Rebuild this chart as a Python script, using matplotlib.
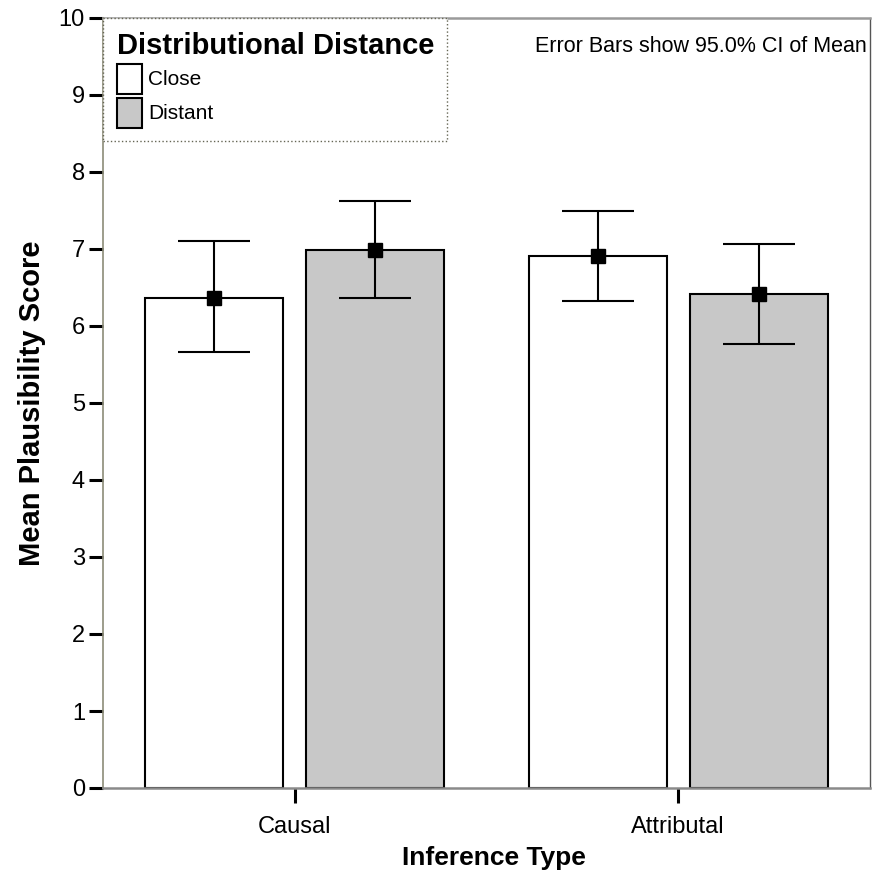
import numpy as np
import matplotlib
matplotlib.use("Agg")
import matplotlib.pyplot as plt
from matplotlib.patches import Rectangle
from matplotlib.legend_handler import HandlerPatch

# data
categories = ["Causal", "Attributal"]
groups = ["Close", "Distant"]
means_close = [6.37, 6.91]
means_distant = [6.99, 6.42]
ci_low_close = [5.66, 6.32]
ci_high_close = [7.10, 7.49]
ci_low_distant = [6.37, 5.77]
ci_high_distant = [7.62, 7.07]
y_ticks = list(range(0, 11))

plt.rcParams["font.family"] = ["Liberation Sans", "DejaVu Sans"]

fig = plt.figure(figsize=(8.72, 8.83), dpi=100)
ax = fig.add_axes([103 / 872, 1 - 788 / 883, 767 / 872, 770 / 883])

x = np.arange(len(categories))
width = 0.36
offset = 0.21

series = [
    (means_close, ci_low_close, ci_high_close, "white", -offset),
    (means_distant, ci_low_distant, ci_high_distant, "#c8c8c8", offset),
]
for (means, lo, hi, color, off), name in zip(series, groups):
    m = np.array(means)
    yerr = [m - np.array(lo), np.array(hi) - m]
    ax.bar(x + off, m, width, color=color, edgecolor="black", linewidth=1.5,
           label=name, zorder=2)
    ax.errorbar(x + off, m, yerr=yerr, fmt="s", color="black", ecolor="black",
                elinewidth=1.5, capsize=26, capthick=1.5, markersize=10, zorder=3)

ax.set_xlim(-0.5, 1.5)
ax.set_ylim(0, 10)
ax.set_xticks(x)
ax.set_xticklabels(categories, fontsize=17)
ax.set_yticks(y_ticks)
ax.set_yticklabels([str(t) for t in y_ticks], fontsize=17)
ax.tick_params(axis="y", length=10, width=2.2, direction="out", pad=3)
ax.tick_params(axis="x", length=11, width=2.2, direction="out", pad=9)

ax.set_xlabel("Inference Type", fontsize=19, fontweight="bold", labelpad=6)
ax.xaxis.set_label_coords(0.51, -0.075)
ax.set_ylabel("Mean Plausibility Score", fontsize=21, fontweight="bold", labelpad=9)

ax.spines["left"].set_color("#8c8c78")
ax.spines["left"].set_linewidth(1.2)
ax.spines["bottom"].set_color("#8a8a8a")
ax.spines["bottom"].set_linewidth(1.8)
ax.spines["top"].set_color("#9a9a9a")
ax.spines["top"].set_linewidth(1.8)
ax.spines["right"].set_color("#555555")
ax.spines["right"].set_linewidth(1.0)

ax.text(0.9955, 0.977, "Error Bars show 95.0% CI of Mean", transform=ax.transAxes,
        ha="right", va="top", fontsize=15.5)


# square legend swatch, centred in the row box
def square_patch(legend, orig_handle, xdescent, ydescent, w, h, fontsize):
    return Rectangle((-xdescent, -ydescent + (h - w) / 2), w, w)


leg = ax.legend(title="Distributional Distance", loc="upper left",
                bbox_to_anchor=(0, 1), borderaxespad=0, fontsize=15,
                title_fontproperties={"size": 21, "weight": "bold"},
                alignment="left", fancybox=False, framealpha=1,
                edgecolor="#666655", handlelength=1.2, handleheight=1.83,
                handletextpad=0.3, labelspacing=0.2, borderpad=0.65,
                handler_map={Rectangle: HandlerPatch(patch_func=square_patch)})
leg.get_frame().set_linewidth(1.0)
leg.get_frame().set_linestyle(":")

fig.savefig("out.png", dpi=100)
